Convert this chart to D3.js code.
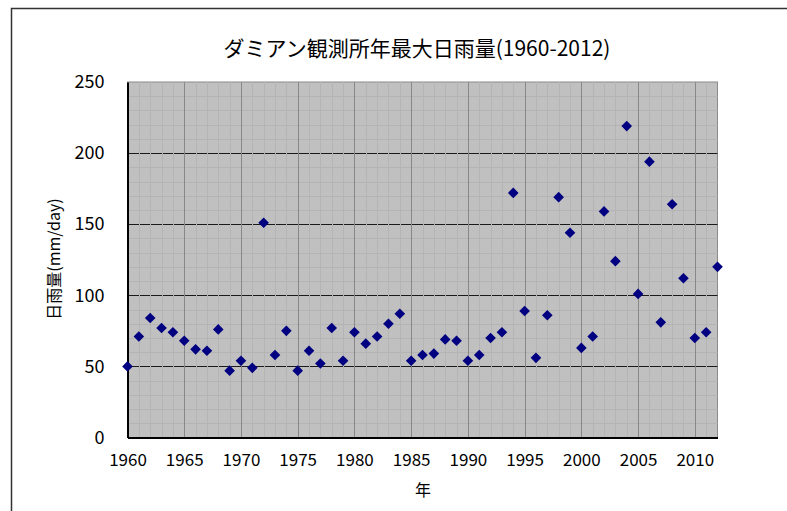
<!DOCTYPE html>
<html>
<head>
<meta charset="utf-8">
<script src="https://cdn.jsdelivr.net/npm/d3@7"></script>
<style>
  body { margin: 0; background: #fff; }
  svg text { font-family: "Noto Sans CJK JP", "DejaVu Sans", sans-serif; fill: #000; }
</style>
</head>
<body>
<svg id="chart"></svg>
<script>
////////////
// DATA
////////////
const years = d3.range(1960, 2013);
const maxDailyRain = [
  50, 71, 84, 77, 74, 68, 62, 61, 76, 47,
  54, 49, 151, 58, 75, 47, 61, 52, 77, 54,
  74, 66, 71, 80, 87, 54, 58, 59, 69, 68,
  54, 58, 70, 74, 172, 89, 56, 86, 169, 144,
  63, 71, 159, 124, 219, 101, 194, 81, 164, 112,
  70, 74, 120
];
const xTicks = [1960, 1965, 1970, 1975, 1980, 1985, 1990, 1995, 2000, 2005, 2010];
const yTicks = [0, 50, 100, 150, 200, 250];

const titleText = "ダミアン観測所年最大日雨量(1960-2012)";
const xTitle = "年";
const yTitle = "日雨量(mm/day)";

////////////
// SETTINGS
////////////
const width = 787, height = 511;
const plot = { left: 127.5, right: 717.5, top: 82, bottom: 437.5 };

const svg = d3.select("#chart").attr("width", width).attr("height", height);

const x = d3.scaleLinear().domain([1960, 2012]).range([plot.left, plot.right]);
const y = d3.scaleLinear().domain([0, 250]).range([plot.bottom, plot.top]);

// outer chart frame (only left + top visible in the picture)
svg.append("path")
  .attr("d", `M11.5,${height} V8.5 H${width}`)
  .attr("fill", "none")
  .attr("stroke", "#333")
  .attr("stroke-width", 1.5);

// plot background
svg.append("rect")
  .attr("x", plot.left).attr("y", plot.top)
  .attr("width", plot.right - plot.left).attr("height", plot.bottom - plot.top)
  .attr("fill", "#c0c0c0")
  .attr("stroke", "#8a8a8a");

const grid = svg.append("g");

// minor horizontal lines every 10
grid.selectAll(".hminor")
  .data(d3.range(10, 250, 10).filter(v => v % 50 !== 0))
  .join("line")
  .attr("x1", plot.left).attr("x2", plot.right)
  .attr("y1", d => Math.round(y(d)) + 0.5).attr("y2", d => Math.round(y(d)) + 0.5)
  .attr("stroke", "#b4b4b4");

// major horizontal lines
grid.selectAll(".hmajor")
  .data(yTicks.filter(v => v > 0 && v < 250))
  .join("line")
  .attr("x1", plot.left).attr("x2", plot.right)
  .attr("y1", d => Math.round(y(d)) + 0.5).attr("y2", d => Math.round(y(d)) + 0.5)
  .attr("stroke", "#1a1a1a");

// minor vertical lines every year (drawn over the major horizontals)
grid.selectAll(".vminor")
  .data(years.filter(v => v % 5 !== 0 && v < 2012))
  .join("line")
  .attr("x1", d => Math.round(x(d)) + 0.5).attr("x2", d => Math.round(x(d)) + 0.5)
  .attr("y1", plot.top).attr("y2", plot.bottom)
  .attr("stroke", "#b4b4b4");

// major vertical lines
grid.selectAll(".vmajor")
  .data(xTicks.filter(v => v > 1960))
  .join("line")
  .attr("x1", d => Math.round(x(d)) + 0.5).attr("x2", d => Math.round(x(d)) + 0.5)
  .attr("y1", plot.top).attr("y2", plot.bottom)
  .attr("stroke", "#888");

// axes
const xAxis = svg.append("g")
  .attr("transform", `translate(0,${plot.bottom})`)
  .call(d3.axisBottom(x).tickValues(xTicks).tickFormat(d3.format("d")).tickSize(0).tickPadding(16));
xAxis.select(".domain").attr("stroke", "#000").attr("stroke-width", 2);
xAxis.selectAll("text").style("font-size", "17px").attr("fill", "#111");

const yAxis = svg.append("g")
  .attr("transform", `translate(${plot.left},0)`)
  .call(d3.axisLeft(y).tickValues(yTicks).tickSize(0).tickPadding(23));
yAxis.select(".domain").attr("stroke", "#000").attr("stroke-width", 2);
yAxis.selectAll("text").style("font-size", "18px").attr("fill", "#111");

// markers
svg.append("g")
  .selectAll("path")
  .data(years.map((yr, i) => ({ year: yr, value: maxDailyRain[i] })))
  .join("path")
  .attr("d", d3.symbol().type(d3.symbolDiamond2).size(72))
  .attr("transform", d => `translate(${x(d.year)},${y(d.value)})`)
  .attr("fill", "#000080");

// titles
svg.append("text")
  .attr("x", 417).attr("y", 56)
  .attr("text-anchor", "middle")
  .style("font-size", "21px")
  .text(titleText);

svg.append("text")
  .attr("x", 423).attr("y", 496)
  .attr("text-anchor", "middle")
  .style("font-size", "16px")
  .text(xTitle);

svg.append("text")
  .attr("transform", "translate(60,259) rotate(-90)")
  .attr("text-anchor", "middle")
  .style("font-size", "16px")
  .text(yTitle);
</script>
</body>
</html>
